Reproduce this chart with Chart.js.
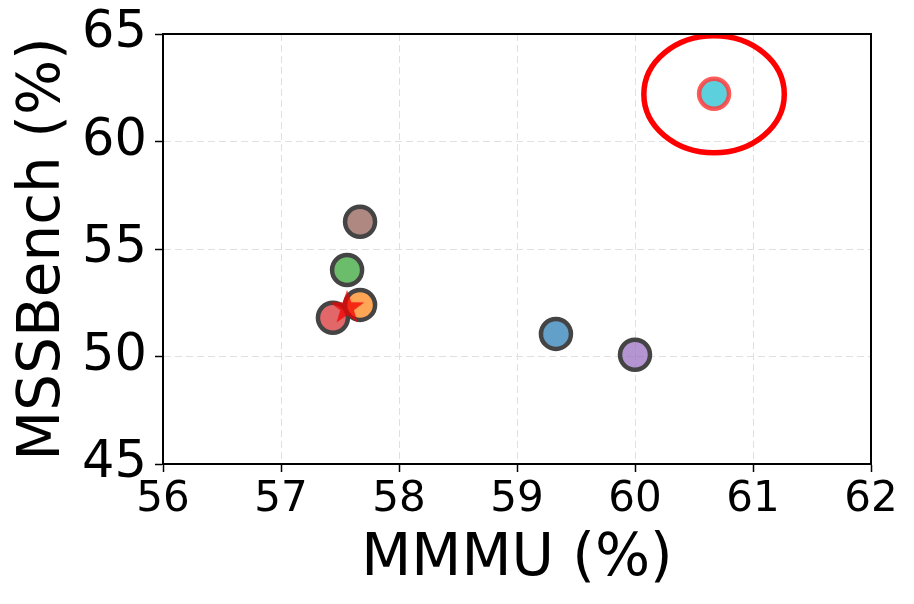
<!DOCTYPE html>
<html>
<head>
<meta charset="utf-8">
<script src="https://cdn.jsdelivr.net/npm/chart.js@4.4.0/dist/chart.umd.min.js"></script>
<style>
  html, body { margin: 0; padding: 0; background: #fff; }
  #wrap { width: 914px; height: 604px; }
</style>
</head>
<body>
<div id="wrap"><canvas id="chart" width="914" height="604"></canvas></div>
<script>
// MMMU vs MSSBench scatter

// points in drawing order (later ones sit on top)
const mmmu     = [59.33, 57.44, 57.67, 57.56, 60.00, 57.67, 60.67];
const mssbench = [51.05, 51.80, 52.40, 54.02, 50.08, 56.27, 62.22];
const fills = [
    'rgba(31, 119, 180, 0.7)',   // blue
    'rgba(214, 39, 40, 0.7)',    // red
    'rgba(255, 127, 14, 0.7)',   // orange
    'rgba(44, 160, 44, 0.7)',    // green
    'rgba(148, 103, 189, 0.7)',  // purple
    'rgba(140, 86, 75, 0.7)',    // brown
    'rgba(23, 190, 207, 0.7)'    // cyan
];
const edges = ['#444', '#444', '#444', '#444', '#444', '#444', 'rgba(255, 60, 60, 0.85)'];

// the red star marker
const starX = [57.56];
const starY = [52.26];

// highlight ellipse around the best point (data units)
const ringCenter = [60.67, 62.2];
const ringRadius = [0.595, 2.72];

const xTicks = [56, 57, 58, 59, 60, 61, 62];
const yTicks = [45, 50, 55, 60, 65];

// filled five-point star used as pointStyle
function makeStar(size, color) {
    const c = document.createElement('canvas');
    c.width = size;
    c.height = size;
    const g = c.getContext('2d');
    const cx = size / 2, cy = size / 2;
    const outer = size / 2, inner = outer * 0.4;
    g.beginPath();
    for (let i = 0; i < 10; i++) {
        const r = i % 2 === 0 ? outer : inner;
        const a = -Math.PI / 2 + i * Math.PI / 5;
        const px = cx + r * Math.cos(a);
        const py = cy + r * Math.sin(a);
        if (i === 0) g.moveTo(px, py); else g.lineTo(px, py);
    }
    g.closePath();
    g.fillStyle = color;
    g.fill();
    return c;
}

const frame = {
    id: 'frame',
    afterDatasetsDraw(chart) {
        const { ctx, chartArea: a, scales } = chart;
        // highlight ring
        const cx = scales.x.getPixelForValue(ringCenter[0]);
        const cy = scales.y.getPixelForValue(ringCenter[1]);
        const rx = Math.abs(scales.x.getPixelForValue(ringCenter[0] + ringRadius[0]) - cx);
        const ry = Math.abs(scales.y.getPixelForValue(ringCenter[1] + ringRadius[1]) - cy);
        ctx.save();
        ctx.beginPath();
        ctx.ellipse(cx, cy, rx, ry, 0, 0, Math.PI * 2);
        ctx.strokeStyle = '#ff0000';
        ctx.lineWidth = 5.5;
        ctx.stroke();
        // box around the plot
        ctx.strokeStyle = '#000';
        ctx.lineWidth = 2;
        ctx.strokeRect(a.left, a.top, a.right - a.left, a.bottom - a.top);
        ctx.restore();
    }
};

const font = 'DejaVu Sans';

new Chart(document.getElementById('chart'), {
    type: 'scatter',
    data: {
        datasets: [{
            data: starX.map((x, i) => ({ x: x, y: starY[i] })),
            pointStyle: makeStar(36, 'rgba(240, 0, 0, 0.75)'),
            order: 0
        }, {
            data: mmmu.map((x, i) => ({ x: x, y: mssbench[i] })),
            backgroundColor: fills,
            borderColor: edges,
            pointRadius: 15,
            pointBorderWidth: 4.5,
            pointHoverRadius: 15,
            order: 1
        }]
    },
    plugins: [frame],
    options: {
        responsive: false,
        animation: false,
        layout: { padding: { top: 34, right: 43, left: 0, bottom: 0 } },
        plugins: {
            legend: { display: false },
            tooltip: { enabled: false }
        },
        scales: {
            x: {
                type: 'linear',
                min: 56,
                max: 62,
                afterBuildTicks: s => { s.ticks = xTicks.map(v => ({ value: v })); },
                afterFit: s => { s.height = 140; s.paddingLeft = 0; s.paddingRight = 0; },
                ticks: {
                    color: '#000',
                    padding: 3,
                    font: { family: font, size: 42 }
                },
                grid: {
                    color: '#e0e0e0',
                    lineWidth: 1,
                    tickLength: 8,
                    tickColor: '#000',
                    tickWidth: 1.5,
                    tickBorderDash: []
                },
                border: { color: '#000', width: 2, dash: [7, 4] },
                title: {
                    display: true,
                    text: 'MMMU (%)',
                    color: '#000',
                    padding: { top: 0, bottom: 9 },
                    font: { family: font, size: 58 }
                }
            },
            y: {
                type: 'linear',
                min: 45,
                max: 65,
                afterBuildTicks: s => { s.ticks = yTicks.map(v => ({ value: v })); },
                afterFit: s => { s.width = 163; s.paddingTop = 0; s.paddingBottom = 0; },
                ticks: {
                    color: '#000',
                    padding: 8,
                    font: { family: font, size: 51 }
                },
                grid: {
                    color: '#e0e0e0',
                    lineWidth: 1,
                    tickLength: 8,
                    tickColor: '#000',
                    tickWidth: 1.5,
                    tickBorderDash: []
                },
                border: { color: '#000', width: 2, dash: [7, 4] },
                title: {
                    display: true,
                    text: 'MSSBench (%)',
                    color: '#000',
                    padding: { top: 9, bottom: 0 },
                    font: { family: font, size: 58 }
                }
            }
        }
    }
});
</script>
</body>
</html>
